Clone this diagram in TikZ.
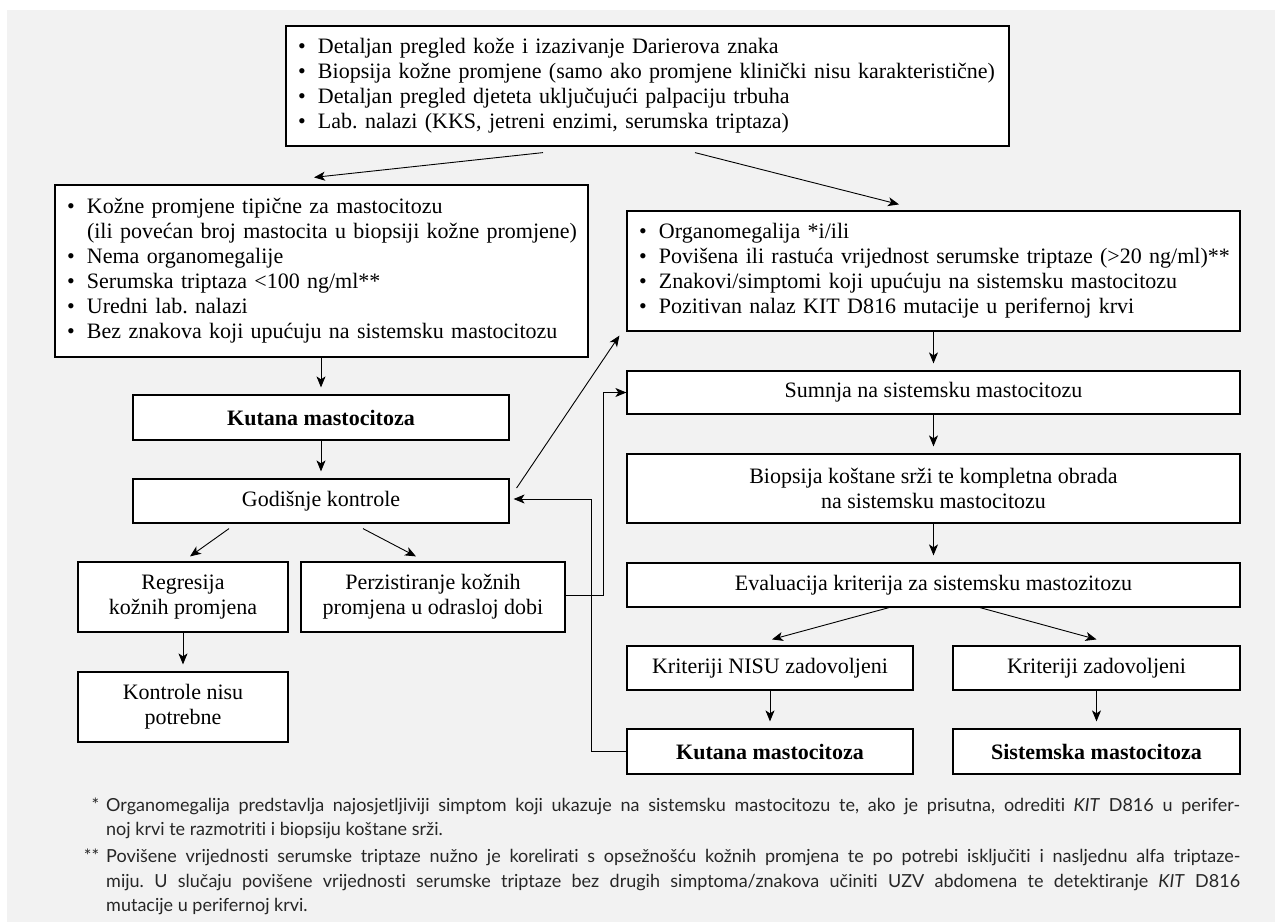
\documentclass[tikz,border=0pt]{standalone}
\usepackage{fontspec}
\setmainfont{Liberation Serif}
\newfontfamily\fnfont[Ligatures=NoCommon]{Lato}
\usetikzlibrary{arrows.meta,calc}
\definecolor{bgc}{HTML}{F2F2F2}
\newcommand{\bl}[1]{\mbox{\makebox[20pt][l]{\textbullet}#1}}
\newcommand{\cl}[1]{\mbox{\hspace*{20pt}#1}}
\frenchspacing
\begin{document}
\begin{tikzpicture}[x=1pt,y=-1pt,
  box/.style={draw=black, line width=1.2pt, fill=white, inner sep=0pt, font=\frenchspacing\fontsize{22}{25}\selectfont},
  cbox/.style={box, align=center},
  lbox/.style={box, align=left, inner xsep=12pt},
  arr/.style={line width=0.9pt, -{Stealth[length=11pt,width=9pt,inset=3pt]}},
  varr/.style={arr, shorten >=7pt},
  fn/.style={anchor=base west, inner sep=0pt, text=black!85, font=\frenchspacing\fnfont\fontsize{18}{21}\selectfont}
]
\useasboundingbox (0,0) rectangle (1275,922);
\fill[white] (0,0) rectangle (1275,922);
\fill[bgc] (7,10) rectangle (1275,922);

% left column
\node[lbox, text width=699pt, minimum height=120pt] (top) at (647.5,86) {%
\bl{Detaljan pregled kože i izazivanje Darierova znaka}\\
\bl{Biopsija kožne promjene (samo ako promjene klinički nisu karakteristične)}\\
\bl{Detaljan pregled djeteta uključujući palpaciju trbuha}\\
\bl{Lab. nalazi (KKS, jetreni enzimi, serumska triptaza)}};

\node[lbox, text width=509pt, minimum height=172pt] (left1) at (321.5,271) {%
\bl{Kožne promjene tipične za mastocitozu}\\
\cl{(ili povećan broj mastocita u biopsiji kožne promjene)}\\
\bl{Nema organomegalije}\\
\bl{Serumska triptaza <100 ng/ml**}\\
\bl{Uredni lab. nalazi}\\
\bl{Bez znakova koji upućuju na sistemsku mastocitozu}};

\node[cbox, minimum width=376pt, minimum height=45pt] (kutL) at (321,417.5) {\textbf{Kutana mastocitoza}};
\node[cbox, minimum width=376pt, minimum height=44pt] (god) at (321,501) {Godišnje kontrole};
\node[cbox, minimum width=210pt, minimum height=70pt] (reg) at (183,597) {Regresija\\kožnih promjena};
\node[cbox, minimum width=264pt, minimum height=70pt] (per) at (433,597) {Perzistiranje kožnih\\promjena u odrasloj dobi};
\node[cbox, minimum width=210pt, minimum height=70pt] (kon) at (183,707) {Kontrole nisu\\potrebne};

% right column
\node[lbox, text width=589pt, minimum height=120pt] (right1) at (933.5,271) {%
\bl{Organomegalija *i/ili}\\
\bl{Povišena ili rastuća vrijednost serumske triptaze (>20 ng/ml)**}\\
\bl{Znakovi/simptomi koji upućuju na sistemsku mastocitozu}\\
\bl{Pozitivan nalaz KIT D816 mutacije u perifernoj krvi}};

\node[cbox, minimum width=613pt, minimum height=43pt] (sum) at (933.5,392.5) {Sumnja na sistemsku mastocitozu};
\node[cbox, minimum width=613pt, minimum height=69pt] (bio) at (933.5,488.5) {Biopsija koštane srži te kompletna obrada\\na sistemsku mastocitozu};
\node[cbox, minimum width=613pt, minimum height=44pt] (eva) at (933.5,585) {Evaluacija kriterija za sistemsku mastozitozu};
\node[cbox, minimum width=286pt, minimum height=44pt] (nisu) at (770,668) {Kriteriji NISU zadovoljeni};
\node[cbox, minimum width=287pt, minimum height=44pt] (zad) at (1096.5,668) {Kriteriji zadovoljeni};
\node[cbox, minimum width=286pt, minimum height=45pt] (kutR) at (770,751.5) {\textbf{Kutana mastocitoza}};
\node[cbox, minimum width=287pt, minimum height=45pt] (sis) at (1096.5,751.5) {\textbf{Sistemska mastocitoza}};

% connectors
\draw[arr] ($(top.south)+(-104.5,6)$) -- ($(left1.north)+(-7.5,-7)$);
\draw[arr] ($(top.south)+(47.5,6)$) -- ($(right1.north)+(-34.5,-6)$);
\draw[varr] (kutL.north |- left1.south) -- (kutL.north);
\draw[varr] (kutL.south) -- (god.north);
\draw[arr] ($(god.south)+(-92,5)$) -- ($(reg.north)+(7,-5)$);
\draw[arr] ($(god.south)+(42,5)$) -- ($(per.north)+(-17,-5)$);
\draw[varr] (reg.south) -- (kon.north);
\draw[arr] ($(per.east)+(0,-2)$) -- ++(38,0) |- (sum.west);
\draw[arr, shorten >=4pt] (kutR.west) -- ++(-35,0) |- ($(god.east)+(0,-2)$);
\draw[arr] ($(god.east)+(7,-13)$) -- ($(right1.south west)+(-7,4)$);
\draw[varr] (right1.south) -- (sum.north);
\draw[varr] (sum.south) -- (bio.north);
\draw[varr] (bio.south) -- (eva.north);
\draw[arr] ($(eva.south)+(-44.5,0)$) -- ($(nisu.north)+(2,-6)$);
\draw[arr] ($(eva.south)+(46.5,0)$) -- ($(zad.north)+(0,-6)$);
\draw[varr] (nisu.south) -- (kutR.north);
\draw[varr] (zad.south) -- (sis.north);

% footnotes
\node[fn] (fa) at (106,811) {\llap{*\hspace{7pt}}\makebox[1134pt][s]{Organomegalija predstavlja najosjetljiviji simptom koji ukazuje na sistemsku mastocitozu te, ako je prisutna, odrediti \textit{KIT} D816 u perifer-}};
\node[fn] (fb) at (106,835) {noj krvi te razmotriti i biopsiju koštane srži.};
\node[fn] (fc) at (106,862) {\llap{**\hspace{7pt}}\makebox[1134pt][s]{Povišene vrijednosti serumske triptaze nužno je korelirati s opsežnošću kožnih promjena te po potrebi isključiti i nasljednu alfa triptaze-}};
\node[fn] (fd) at (106,887) {\makebox[1134pt][s]{miju. U slučaju povišene vrijednosti serumske triptaze bez drugih simptoma/znakova učiniti UZV abdomena te detektiranje \textit{KIT} D816}};
\node[fn] (fe) at (106,911) {mutacije u perifernoj krvi.};
\end{tikzpicture}
\end{document}
